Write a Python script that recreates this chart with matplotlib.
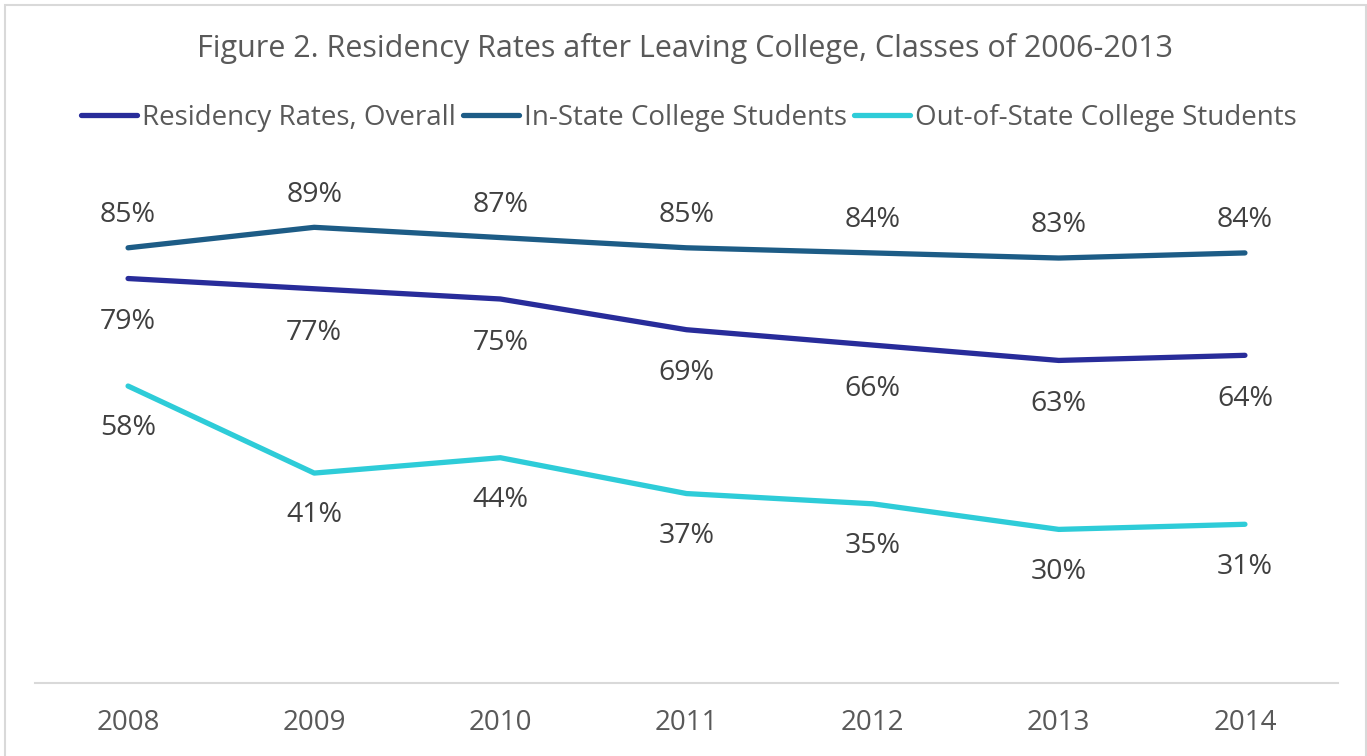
import matplotlib
matplotlib.use("Agg")
import matplotlib.pyplot as plt
from matplotlib.patches import Rectangle

years = ["2008", "2009", "2010", "2011", "2012", "2013", "2014"]
overall = [79, 77, 75, 69, 66, 63, 64]
in_state = [85, 89, 87, 85, 84, 83, 84]
out_state = [58, 41, 44, 37, 35, 30, 31]
series_names = ["Residency Rates, Overall", "In-State College Students", "Out-of-State College Students"]
title = "Figure 2. Residency Rates after Leaving College, Classes of 2006-2013"

colors = ["#282C9A", "#1D5C86", "#2ECCD8"]
text_color = "#595959"
label_color = "#404040"

plt.rcParams["font.family"] = ["Open Sans", "DejaVu Sans"]

W, H = 1367, 756
fig = plt.figure(figsize=(W / 100, H / 100), dpi=100)
fig.patch.set_facecolor("white")

# chart border
fig.add_artist(Rectangle((4.5 / W, -0.01), (1366 - 4.5) / W, 1 - 5 / H + 0.01,
                         transform=fig.transFigure, fill=False,
                         edgecolor="#D9D9D9", linewidth=1.5))

ax = fig.add_axes([35 / W, 73 / H, (1338 - 35) / W, 512 / H])
x = list(range(len(years)))
data = [overall, in_state, out_state]
offsets = [-31.5, 23.5, -30.5]
for vals, name, c, off in zip(data, series_names, colors, offsets):
    ax.plot(x, vals, color=c, linewidth=3.8, label=name, solid_capstyle="round",
            solid_joinstyle="round")
    for xi, v in zip(x, vals):
        ax.annotate(f"{v}%", (xi, v), xytext=(0, off), textcoords="offset points",
                    ha="center", va="center", fontsize=20.5, color=label_color)

ax.set_xlim(-0.5, len(years) - 0.5)
ax.set_ylim(0, 100)
ax.set_xticks(x)
ax.set_xticklabels(years)
ax.tick_params(axis="x", length=0, pad=19, labelsize=20, labelcolor=text_color)
ax.set_yticks([])
for s in ["top", "right", "left"]:
    ax.spines[s].set_visible(False)
ax.spines["bottom"].set_color("#D9D9D9")
ax.spines["bottom"].set_linewidth(1.5)
ax.patch.set_visible(False)

fig.text(685 / W, 1 - 49 / H, title, ha="center", va="center", fontsize=22, color=text_color)

leg = fig.legend(loc="center", bbox_to_anchor=(689 / W, 1 - 118 / H), ncol=3, frameon=False,
                 fontsize=20, handlelength=2.0, handletextpad=0.2, columnspacing=0.25,
                 borderaxespad=0, borderpad=0)
for t in leg.get_texts():
    t.set_color(text_color)

fig.savefig("out.png", dpi=100)
